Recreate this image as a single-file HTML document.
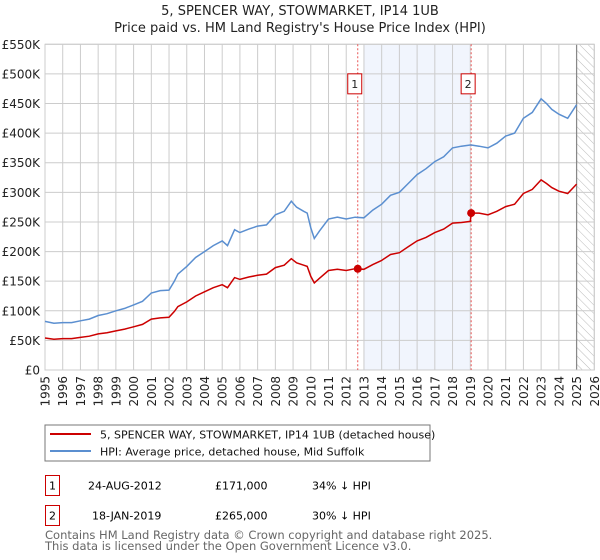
<!DOCTYPE html>
<html><head><meta charset="utf-8"><style>
body{margin:0;background:#fff;font-family:"Liberation Sans","DejaVu Sans",sans-serif;}
#wrap{position:relative;width:600px;height:560px;overflow:hidden}
text{font-family:"DejaVu Sans","Liberation Sans",sans-serif}
</style></head><body><div id="wrap">
<svg id="svg" width="600" height="560" xmlns="http://www.w3.org/2000/svg">
<defs><pattern id="hatch" width="6" height="6" patternUnits="userSpaceOnUse" patternTransform="rotate(-45)"><line x1="0" y1="0" x2="0" y2="6" stroke="#bbb" stroke-width="1"/></pattern></defs>
<text x="300" y="15" text-anchor="middle" font-size="13" fill="#222">5, SPENCER WAY, STOWMARKET, IP14 1UB</text>
<text x="300" y="32" text-anchor="middle" font-size="13" fill="#222">Price paid vs. HM Land Registry's House Price Index (HPI)</text>
<g id="grid"></g><g id="marks"></g>
<rect x="45" y="425" width="385" height="36" fill="#fff" stroke="#777"/>
<line x1="50" y1="434" x2="91" y2="434" stroke="#cc0000" stroke-width="2"/>
<text x="100" y="438.5" font-size="11" fill="#111">5, SPENCER WAY, STOWMARKET, IP14 1UB (detached house)</text>
<line x1="50" y1="451" x2="91" y2="451" stroke="#5b8fd0" stroke-width="2"/>
<text x="100" y="455.5" font-size="11" fill="#111">HPI: Average price, detached house, Mid Suffolk</text>
<g>
<rect x="45.5" y="475.5" width="14" height="20" fill="none" stroke="#cc0000"/><text x="52.5" y="489.5" text-anchor="middle" font-size="11">1</text>
<text x="88" y="489.5" font-size="11">24-AUG-2012</text><text x="215" y="489.5" font-size="11">£171,000</text><text x="312" y="489.5" font-size="11">34% ↓ HPI</text></g>
<g>
<rect x="45.5" y="505.5" width="14" height="20" fill="none" stroke="#cc0000"/><text x="52.5" y="519.5" text-anchor="middle" font-size="11">2</text>
<text x="92" y="519.5" font-size="11">18-JAN-2019</text><text x="215" y="519.5" font-size="11">£265,000</text><text x="312" y="519.5" font-size="11">30% ↓ HPI</text></g>
<text x="45" y="539" font-size="11.5" fill="#666">Contains HM Land Registry data © Crown copyright and database right 2025.</text>
<text x="45" y="550" font-size="11.5" fill="#666">This data is licensed under the Open Government Licence v3.0.</text>
</svg></div>
<script>
const years=[1995,1995.5,1996,1996.5,1997,1997.5,1998,1998.5,1999,1999.5,2000,2000.5,2001,2001.5,2002,2002.3,2002.5,2003,2003.5,2004,2004.5,2005,2005.3,2005.7,2006,2006.5,2007,2007.5,2008,2008.5,2008.9,2009.2,2009.6,2009.8,2010,2010.2,2010.5,2011,2011.5,2012,2012.5,2013,2013.5,2014,2014.5,2015,2015.5,2016,2016.5,2017,2017.5,2018,2018.5,2019,2019.05,2019.5,2020,2020.5,2021,2021.5,2022,2022.5,2023,2023.3,2023.6,2024,2024.5,2025];
const hpiValues=[82,79,80,80,83,86,92,95,100,104,110,116,130,134,135,150,162,175,190,200,210,218,210,237,232,238,243,245,262,268,285,275,268,265,240,222,235,255,258,255,258,257,270,280,295,300,315,330,340,352,360,375,378,380,380,378,375,383,395,400,425,435,458,450,440,432,425,448];
const propValues=[54,52,53,53,55,57,61,63,66,69,73,77,86,88,89,99,107,115,125,132,139,144,139,156,153,157,160,162,173,177,188,181,177,175,158,147,155,168,170,168,171,170,178,185,195,198,208,218,224,232,238,248,249,251,265,265,262,268,276,280,298,305,321,315,308,302,298,314];
const saleYears=[2012.65,2019.05];
const saleValues=[171,265];
const saleLabels=["1","2"];
const yTicks=[0,50,100,150,200,250,300,350,400,450,500,550];
const yTickLabels=["£0","£50K","£100K","£150K","£200K","£250K","£300K","£350K","£400K","£450K","£500K","£550K"];
const xTicks=[1995,1996,1997,1998,1999,2000,2001,2002,2003,2004,2005,2006,2007,2008,2009,2010,2011,2012,2013,2014,2015,2016,2017,2018,2019,2020,2021,2022,2023,2024,2025,2026];
const X0=45,X1=594.3,Y0=370,Y1=44.3;
const xs=y=>X0+(y-1995)/(2026-1995)*(X1-X0);
const ys=v=>Y0-v/550*(Y0-Y1);
const NS="http://www.w3.org/2000/svg";
function mk(tag,attrs,parent){const e=document.createElementNS(NS,tag);for(const k in attrs)e.setAttribute(k,attrs[k]);parent.appendChild(e);return e;}
const grid=document.getElementById('grid'),marks=document.getElementById('marks');
let r=mk('rect',{x:xs(2013),y:Y1,width:xs(2019)-xs(2013),height:Y0-Y1,fill:'#eef3fc',opacity:0.8},grid);


let h=mk('rect',{x:xs(2025.0),y:Y1,width:X1-xs(2025.0),height:Y0-Y1,fill:'url(#hatch)'},grid);


yTicks.forEach((v,i)=>{
 const l=mk('line',{x1:X0,x2:X1,y1:ys(v),y2:ys(v),stroke:'#ccc','stroke-width':1},grid);
 
 
 const t=mk('text',{x:40,y:ys(v)+4.5,'text-anchor':'end','font-size':12,fill:'#222'},grid);
 t.textContent=yTickLabels[i];
 
 
});
xTicks.forEach(yr=>{
 const l=mk('line',{x1:xs(yr),x2:xs(yr),y1:Y1,y2:Y0,stroke:'#ccc','stroke-width':1},grid);
 
 
 const t=mk('text',{transform:`translate(${xs(yr)+4.5},${Y0+6}) rotate(-90)`,'text-anchor':'end','font-size':12,fill:'#222'},grid);
 t.textContent=yr;
 
 
});
const vl=mk('line',{x1:xs(2025.0),x2:xs(2025.0),y1:Y1,y2:Y0,stroke:'#888','stroke-width':1.2},grid);


const ax=mk('rect',{x:X0,y:Y1,width:X1-X0,height:Y0-Y1,fill:'none',stroke:'#ccc'},grid);


saleYears.forEach((sy,i)=>{
 const l=mk('line',{x1:xs(sy),x2:xs(sy),y1:Y1,y2:Y0,stroke:'#e85555','stroke-width':1,'stroke-dasharray':'2,2'},marks);
 
 
 const bx=mk('rect',{x:xs(sy)-10,y:ys(490)-6,width:14,height:20,fill:'#fff',stroke:'#cc0000'},marks);
 
 
 const t=mk('text',{x:xs(sy)-3,y:ys(490)+8,'text-anchor':'middle','font-size':11,fill:'#222'},marks);
 t.textContent=saleLabels[i];
 
 
});
const pts=a=>years.map((y,i)=>xs(y).toFixed(1)+','+ys(a[i]).toFixed(1)).join(' ');
const hp=mk('polyline',{points:pts(hpiValues),fill:'none',stroke:'#5b8fd0','stroke-width':1.5},marks);


const pp=mk('polyline',{points:pts(propValues),fill:'none',stroke:'#cc0000','stroke-width':1.5},marks);


saleYears.forEach((sy,i)=>{
 const c=mk('circle',{cx:xs(sy),cy:ys(saleValues[i]),r:4,fill:'#cc0000'},marks);
 
 
});
</script></body></html>
